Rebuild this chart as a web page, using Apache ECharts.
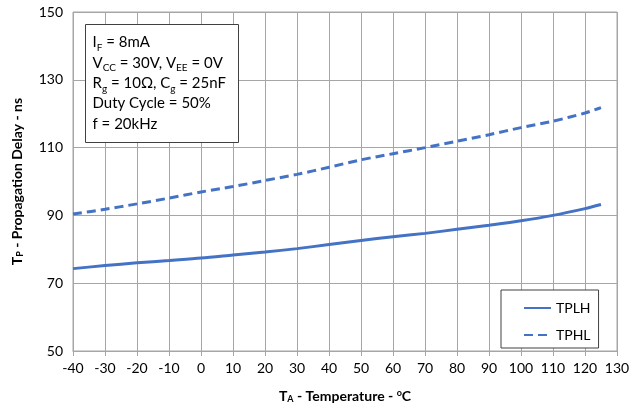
<!DOCTYPE html>
<html><head><meta charset="utf-8">
<script src="https://cdn.jsdelivr.net/npm/echarts@6/dist/echarts.min.js"></script>
<style>html,body{margin:0;padding:0;background:#fff}#c{width:640px;height:415px}</style>
</head><body><div id="c"></div>
<script>
const temps = [-40,-30,-20,-10,0,10,20,30,40,50,60,70,80,90,100,110,120,125];
const tplh  = [74.3,75.2,76.0,76.7,77.4,78.3,79.2,80.2,81.4,82.6,83.7,84.7,85.9,87.1,88.4,90.0,92.0,93.2];
const tphl  = [90.4,91.8,93.4,95.1,96.9,98.5,100.3,102.1,104.2,106.4,108.2,110.0,111.9,113.8,115.9,117.8,120.2,121.8];
const xTicks = {min:-40, max:130, step:10};
const yTicks = {min:50, max:150, step:20};
const noteLines = [
  '{t|I}{s|F}{t| = 8mA}',
  '{t|V}{s|CC}{t| = 30V, V}{s|EE}{t| = 0V}',
  '{t|R}{s|g}{t| = 10Ω, C}{s|g}{t| = 25nF}',
  '{t|Duty Cycle = 50%}',
  '{t|f = 20kHz}'
];
const FONT = 'Lato';
const COLOR = '#4472C4';
const chart = echarts.init(document.getElementById('c'));
const pair = (xs, ys) => xs.map((x,i)=>[x, ys[i]]);
chart.setOption({
  animation:false,
  textStyle:{fontFamily:FONT},
  grid:{left:73,right:23,top:12,bottom:64,show:true,borderColor:'#a6a6a6',borderWidth:1},
  xAxis:{type:'value',min:xTicks.min,max:xTicks.max,interval:xTicks.step,
    axisLine:{onZero:false,lineStyle:{color:'#a6a6a6'}},
    axisTick:{show:true,length:5,lineStyle:{color:'#a6a6a6'}},
    axisLabel:{color:'#000',fontSize:14,fontFamily:FONT,margin:10},
    splitLine:{show:true,lineStyle:{color:'#a6a6a6'}},
    name:'{b|T}{bs|A}{b| - Temperature - }{bsup|o}{b|C}',nameLocation:'middle',nameGap:38,
    nameTextStyle:{rich:{
      b:{fontSize:14,fontWeight:'bold',color:'#000',fontFamily:FONT},
      bs:{fontSize:9,fontWeight:'bold',color:'#000',fontFamily:FONT,verticalAlign:'bottom',padding:[6,0,0,0]},
      bsup:{fontSize:9,fontWeight:'bold',color:'#000',fontFamily:FONT,verticalAlign:'top',padding:[0,0,6,0]}
    }}
  },
  yAxis:{type:'value',min:yTicks.min,max:yTicks.max,interval:yTicks.step,
    axisLine:{show:true,lineStyle:{color:'#a6a6a6'}},
    axisTick:{show:true,length:5,lineStyle:{color:'#a6a6a6'}},
    axisLabel:{color:'#000',fontSize:14,fontFamily:FONT,margin:10},
    splitLine:{show:true,lineStyle:{color:'#a6a6a6'}},
    name:'{b|T}{bs|P}{b| - Propagation Delay - ns}',nameLocation:'middle',nameGap:48,
    nameTextStyle:{rich:{
      b:{fontSize:14,fontWeight:'bold',color:'#000',fontFamily:FONT},
      bs:{fontSize:9,fontWeight:'bold',color:'#000',fontFamily:FONT,verticalAlign:'bottom',padding:[6,0,0,0]}
    }}
  },
  legend:{orient:'vertical',left:501,top:290,width:108,height:52,
    padding:[11,8,6,22],itemGap:13,itemWidth:27,itemHeight:10,
    borderColor:'#404040',borderWidth:1,backgroundColor:'#fff',
    itemStyle:{opacity:0},
    textStyle:{fontSize:14,color:'#000',fontFamily:FONT,padding:[0,0,0,0]},
    data:['TPLH','TPHL']},
  graphic:[{type:'group',left:85,top:24,z:100,children:[
    {type:'rect',z:100,shape:{x:0,y:0,width:153,height:118},style:{fill:'#fff',stroke:'#404040',lineWidth:1}},
    {type:'text',z:101,left:7,top:8,style:{
      text:noteLines.join('\n'),lineHeight:20.3,
      rich:{
        t:{fontSize:15,fill:'#000',fontFamily:FONT,lineHeight:20.3},
        s:{fontSize:10,fill:'#000',fontFamily:FONT,verticalAlign:'bottom',lineHeight:20.3,padding:[8,0,0,0]}
      }}}
  ]}],
  series:[
    {name:'TPLH',type:'line',data:pair(temps,tplh),symbol:'none',smooth:0.3,
     lineStyle:{color:COLOR,width:3},itemStyle:{color:COLOR},z:3},
    {name:'TPHL',type:'line',data:pair(temps,tphl),symbol:'none',smooth:0.3,
     lineStyle:{color:COLOR,width:3,type:[9,5]},itemStyle:{color:COLOR},z:3}
  ]
});
</script></body></html>
